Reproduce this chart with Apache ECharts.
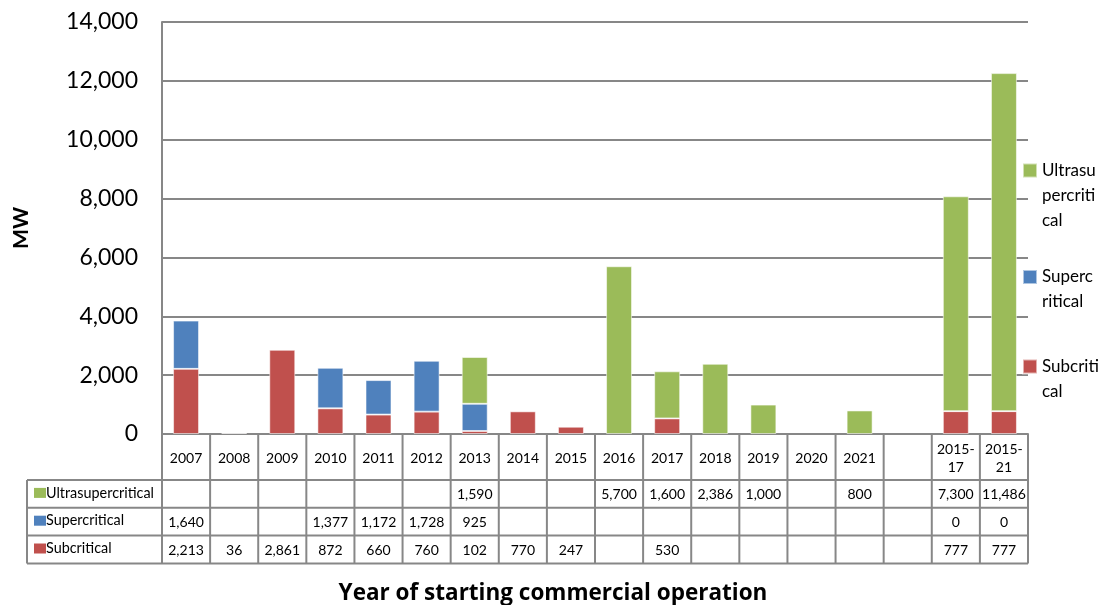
<!DOCTYPE html>
<html>
<head>
<meta charset="utf-8">
<script src="https://cdn.jsdelivr.net/npm/echarts@6/dist/echarts.min.js"></script>
<style>html,body{margin:0;padding:0;background:#fff;}#c{width:1105px;height:605px;}</style>
</head>
<body>
<div id="c"></div>
<script>
const categories = ['2007','2008','2009','2010','2011','2012','2013','2014','2015','2016','2017','2018','2019','2020','2021','','2015-17','2015-21'];
const ultrasupercritical = [null,null,null,null,null,null,1590,null,null,5700,1600,2386,1000,null,800,null,7300,11486];
const supercritical = [1640,null,null,1377,1172,1728,925,null,null,null,null,null,null,null,null,null,0,0];
const subcritical = [2213,36,2861,872,660,760,102,770,247,null,530,null,null,null,null,null,777,777];
const yTicks = [0,2000,4000,6000,8000,10000,12000,14000];
const seriesNames = ['Ultrasupercritical','Supercritical','Subcritical'];
const yTitle = 'MW';
const xTitle = 'Year of starting commercial operation';

const COLORS = {Ultrasupercritical:'#9BBB59', Supercritical:'#4F81BD', Subcritical:'#C0504D'};
const FONT = 'Lato, "Liberation Sans", sans-serif';
const GRAY = '#878787';

const chart = echarts.init(document.getElementById('c'));
const fmt = v => Number(v).toLocaleString('en-US');

const barCommon = {
  type:'bar', stack:'total', barWidth:'54%',
  itemStyle:{borderColor:'rgba(255,255,255,0.55)', borderWidth:1}
};

// legend swatches: square drawn at the level of the first wrapped text line
const LH = 25, ICON_H = 64;
const swatch = top => 'path://M0,' + top + 'L14,' + top + 'L14,' + (top+14) + 'L0,' + (top+14) + 'Z M0,0L0,0 M14,' + ICON_H + 'L14,' + ICON_H;
const legendData = seriesNames.map((name,i) => ({
  name, icon: swatch(i === 0 ? 0 : 12.5)
}));

chart.setOption({
  animation:false,
  backgroundColor:'#fff',
  title:{text:xTitle, left:548, top:577, textAlign:'center',
    textStyle:{fontFamily:'"Open Sans", Lato, sans-serif', fontWeight:'bold', fontSize:22.5, color:'#000'}},
  legend:{
    orient:'vertical', left:1022, top:158, itemGap:23.5, padding:0,
    itemWidth:14, itemHeight:ICON_H,
    data:legendData,
    textStyle:{fontFamily:FONT, fontSize:17, color:'#000', width:57.6, overflow:'breakAll', lineHeight:LH}
  },
  grid:{left:162, right:77, top:22, bottom:171, containLabel:false},
  xAxis:{
    type:'category', data:categories,
    axisLine:{show:true, lineStyle:{color:GRAY, width:2}},
    axisTick:{show:false}, axisLabel:{show:false}, splitLine:{show:false}
  },
  yAxis:{
    type:'value', min:yTicks[0], max:yTicks[yTicks.length-1], interval:yTicks[1]-yTicks[0],
    name:yTitle, nameLocation:'middle', nameGap:130, nameRotate:90,
    nameTextStyle:{fontFamily:FONT, fontWeight:'bold', fontSize:21, color:'#000'},
    axisLine:{show:true, lineStyle:{color:GRAY, width:2}},
    axisTick:{show:false},
    axisLabel:{fontFamily:FONT, fontSize:23, color:'#000', margin:24, formatter:v=>fmt(v)},
    splitLine:{lineStyle:{color:GRAY, width:2}}
  },
  series:[
    Object.assign({name:'Subcritical', data:subcritical, color:COLORS.Subcritical}, barCommon),
    Object.assign({name:'Supercritical', data:supercritical, color:COLORS.Supercritical}, barCommon),
    Object.assign({name:'Ultrasupercritical', data:ultrasupercritical, color:COLORS.Ultrasupercritical}, barCommon)
  ]
});

// Build the data table below the axis, aligned with the category axis
function buildTable(){
  const n = categories.length;
  const c0 = chart.convertToPixel({xAxisIndex:0}, 0);
  const c1 = chart.convertToPixel({xAxisIndex:0}, 1);
  const cw = c1 - c0;
  const xl = c0 - cw/2, xr = xl + cw*n;
  const yb = chart.convertToPixel({yAxisIndex:0}, 0);
  const headerH = 46, rowH = 27.8;
  const labelLeft = 27;
  const rowsTop = yb + headerH;
  const rows = [
    {name:'Ultrasupercritical', data:ultrasupercritical},
    {name:'Supercritical', data:supercritical},
    {name:'Subcritical', data:subcritical}
  ];
  const tableBottom = rowsTop + rowH*rows.length;
  const els = [];
  const line = (x1,y1,x2,y2) => els.push({type:'line', silent:true, z:10,
    shape:{x1,y1,x2,y2}, style:{stroke:GRAY, lineWidth:2}});
  for(let i=0;i<=n;i++){ const x = xl + cw*i; line(x, yb, x, tableBottom); }
  line(labelLeft, rowsTop, labelLeft, tableBottom);
  for(let r=0;r<=rows.length;r++){ const y = rowsTop + rowH*r; line(labelLeft, y, xr, y); }
  categories.forEach((c,i)=>{
    if(!c) return;
    els.push({type:'text', silent:true, z:11, style:{
      text:c.replace('-', '-\n'), x:c0 + cw*i, y:yb + headerH/2 + 1,
      align:'center', verticalAlign:'middle', font:'14px '+FONT, fill:'#000', lineHeight:18}});
  });
  rows.forEach((row,r)=>{
    const yc = rowsTop + rowH*r + rowH/2;
    els.push({type:'rect', silent:true, z:11, shape:{x:labelLeft+7, y:yc-6, width:12, height:10},
      style:{fill:COLORS[row.name]}});
    els.push({type:'text', silent:true, z:11, style:{
      text:row.name, x:labelLeft+19, y:yc-1, align:'left', verticalAlign:'middle',
      font:'14.4px '+FONT, fill:'#000'}});
    row.data.forEach((v,i)=>{
      if(v===null || v===undefined) return;
      els.push({type:'text', silent:true, z:11, style:{
        text:fmt(v), x:c0 + cw*i, y:yc+1, align:'center', verticalAlign:'middle',
        font:'14px '+FONT, fill:'#000'}});
    });
  });
  chart.setOption({graphic:{elements:els}});
}
buildTable();
</script>
</body>
</html>
